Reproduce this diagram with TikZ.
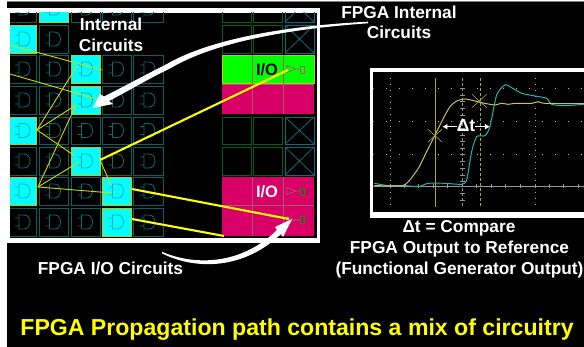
\documentclass[tikz,border=0pt]{standalone}
\usepackage{fontspec}
\usetikzlibrary{arrows.meta}
\setmainfont{Liberation Sans}
\definecolor{gridteal}{HTML}{0A5F5F}
\definecolor{gateteal}{HTML}{0B6E6E}
\definecolor{gatecy}{HTML}{18A8B0}
\definecolor{dkgreen}{HTML}{065C18}
\definecolor{xteal}{HTML}{0F6A78}
\definecolor{pinkc}{HTML}{D80066}
\definecolor{pinkl}{HTML}{A85A70}
\definecolor{scopey}{HTML}{C4C45A}
\definecolor{scopet}{HTML}{2FB0B0}
\definecolor{cursy}{HTML}{A8A83A}
\definecolor{cyanc}{HTML}{00FFFF}
\definecolor{yelc}{HTML}{FFFF00}
\definecolor{wirec}{HTML}{D8D800}
\definecolor{edgec}{HTML}{C8C800}
\definecolor{greenc}{HTML}{00FF00}
\tikzset{
  cellbox/.style={draw=gridteal,line width=0.9pt},
  cyanbox/.style={fill=cyanc,draw=edgec,line width=0.7pt},
  gatesym/.pic={\draw[line width=0.8pt,draw=#1] (-4,-7) -- (1,-7) .. controls (9,-7) and (9,7) .. (1,7) -- (-4,7) -- cycle
     (-4,-4) -- (-8,-4) (-4,4) -- (-8,4);},
  wire/.style={draw=wirec,line width=0.9pt},
  thickwire/.style={draw=yelc,line width=2.1pt},
  lbl/.style={text=white,font=\bfseries\fontsize{17.3}{20}\selectfont,inner sep=0pt,anchor=base},
  iolbl/.style={inner sep=0pt,anchor=base,font=\bfseries\fontsize{16.5}{20}\selectfont},
  ghost/.style={draw=dkgreen,line width=0.9pt},
  xcell/.style={draw=xteal,line width=0.8pt},
  gridline/.style={draw=pinkl,line width=1pt},
}
\begin{document}
\begin{tikzpicture}[x=1pt,y=-1pt]
\useasboundingbox (0,0) rectangle (584,347);
\fill[black] (0,0) rectangle (584,347);
\fill[white] (0,0) rectangle (584,1);
\fill[gray] (0,1) rectangle (584,2);
\fill[white] (0,0) rectangle (6.5,347);
% frame
\fill[white] (6.5,8) rectangle (320,243);
\fill[black] (10,13) rectangle (316.5,238);
\begin{scope}
\clip (10,13) rectangle (316.5,238);
% left grid
\foreach \xa/\xb in {-20/36,39/68,71/100,102/131,133/163}{
  \foreach \ya/\yb in {-6/22,25/53,55/83,86/114,117/144,147/175,177/205,208/236}{
    \ifnum\xa=71 \ifnum\ya=25 \else
      \draw[cellbox] (\xa,\ya) rectangle (\xb,\yb);
    \fi\else\ifnum\xa>71 \ifnum\ya=25 \else
      \draw[cellbox] (\xa,\ya) rectangle (\xb,\yb);
    \fi\else
      \draw[cellbox] (\xa,\ya) rectangle (\xb,\yb);
    \fi\fi
  }
}
\foreach \cx in {23,53.5,85.5,116.5,148}{
  \foreach \cy in {8,39,69,100,130.5,161,191,222}{
    \ifdim\cx pt>60pt \ifdim\cy pt=39pt \else
      \pic at (\cx,\cy) {gatesym=gateteal};
    \fi\else
      \pic at (\cx,\cy) {gatesym=gateteal};
    \fi
  }
}
\foreach \xa/\xb/\ya/\yb in {39/68/-6/22,-20/36/25/53,71/100/55/83,71/100/86/114,-20/36/117/144,71/100/147/175,-20/36/177/205,102/131/177/205,102/131/208/236}{
  \draw[cyanbox] (\xa,\ya) rectangle (\xb,\yb);
}
\foreach \cx/\cy in {53.5/8,23/39,85.5/69,85.5/100,23/130.5,85.5/161,23/191,116.5/191,116.5/222}{
  \pic at (\cx,\cy) {gatesym=gatecy};
}
% right columns
\foreach \xa/\xb in {222/251,253/282}{
  \foreach \ya/\yb in {-6/22,25/53,117/144,147/175}{
    \draw[ghost] (\xa,\ya) rectangle (\xb,\yb);
  }
}
\foreach \ya/\yb in {-6/22,25/53,117/144,147/175}{
  \draw[xcell] (285,\ya) rectangle (314,\yb);
  \draw[xcell] (285,\ya) -- (314,\yb) (285,\yb) -- (314,\ya);
}
\fill[greenc] (222,55) rectangle (314,83);
\draw[edgec,line width=0.5pt] (222,55) rectangle (314,83);
\fill[pinkc] (222,85) rectangle (314,114);
\fill[pinkc] (222,177) rectangle (314,236);
\draw[gridline] (252,55) -- (252,114) (283.5,55) -- (283.5,114) (222,84.5) -- (314,84.5);
\draw[gridline] (252,177) -- (252,236) (283.5,177) -- (283.5,236) (222,206) -- (314,206);
\foreach \yy/\cc in {69/pinkl,191/pinkl,220/pinkl}{
  \draw[\cc,line width=0.7pt] (287,\yy-3.5) -- (296,\yy) -- (287,\yy+3.5) -- cycle (296,\yy) -- (300,\yy);
}
\draw[pinkl,line width=0.8pt] (300,66) rectangle (304,73);
\draw[green!60!black,line width=0.8pt] (300,188) rectangle (304,195) (300,216.5) rectangle (304,223.5);
\end{scope}
% pins
\coordinate (p1) at (10,45);   \coordinate (p2) at (102,70);
\coordinate (p3) at (10,74);   \coordinate (p4) at (100,100);
\coordinate (a) at (37,130);   \coordinate (b) at (38,187);
\coordinate (c1) at (77,66);   \coordinate (c2) at (76,105);
\coordinate (c3) at (75,156);  \coordinate (c4) at (79,162);
\coordinate (d) at (100,160);  \coordinate (e1) at (111,185);
\coordinate (e2) at (112,193); \coordinate (f1) at (132,189);
\coordinate (f2) at (132,219); \coordinate (o1) at (288,70);
\coordinate (o2) at (289,219); \coordinate (o3) at (224,236);
\foreach \s/\t in {p1/p2,p3/p4,a/c1,a/c2,b/c2,a/c3,b/c4,b/e2,d/e1}{\draw[wire] (\s) -- (\t);}
\foreach \s/\t in {d/o1,f1/o2,f2/o3}{\draw[thickwire] (\s) -- (\t);}
% labels
\node[lbl] (li1) at (111,31) {Internal};
\node[lbl] (li2) at (111,51.5) {Circuits};
\node[iolbl,text=black] (io1) at (267,76) {I/O};
\node[iolbl,text=white] (io2) at (267,198) {I/O};
\node[lbl] (fi1) at (399,18.5) {FPGA Internal};
\node[lbl] (fi2) at (399,38.5) {Circuits};
\node[lbl] (fio) at (110.5,275) {FPGA I/O Circuits};
\node[lbl] (d1) at (459,233) {Δt = Compare};
\node[lbl] (d2) at (459.5,254) {FPGA Output to Reference};
\node[lbl] (d3) at (459.5,274.5) {(Functional Generator Output)};
\node[inner sep=0pt,anchor=base,text=yelc,font=\bfseries\fontsize{23.1}{28}\selectfont] (title) at (297,336) {FPGA Propagation path contains a mix of circuitry};
% white arrows
\fill[white] (368,21.7) .. controls (300,25) and (215,36) .. (166,64.5) .. controls (145,75) and (125,86) .. (104,96.5) -- (100,94) -- (93,108) -- (113,104) -- (109,101) .. controls (130,90) and (150,78) .. (170,68.5) .. controls (218,40) and (300,28) .. (368,23.3) -- cycle;
\fill[white] (162,251.8) .. controls (190,264) and (238,268) .. (277,230) -- (275,227) -- (292,219) -- (283,237) -- (281,234) .. controls (240,273) and (190,268) .. (162,253.3) -- cycle;
% scope
\fill[white] (369.5,68) rectangle (584,218);
\fill[black] (373,72) rectangle (584,212);
\begin{scope}[shift={(365,65)},x=0.3333pt,y=-0.3333pt]
\clip (25,22) rectangle (657,440);
\foreach \gx in {75,510}{\draw[gray!60,line width=0.5pt,dash pattern=on 1pt off 5pt] (\gx,40) -- (\gx,425);}
\foreach \gy in {70,168,267}{\draw[gray!60,line width=0.5pt,dash pattern=on 1pt off 12pt] (25,\gy) -- (657,\gy);}
\draw[gray!80,line width=0.6pt] (25,363) -- (657,363);
\foreach \gx in {75,118,161,204,247,335,378,422,465,510,553,596,639}{\draw[gray!80,line width=0.5pt] (\gx,358) -- (\gx,368);}
\draw[gray!85,line width=0.8pt,densely dashed] (292,40) -- (292,425);
\foreach \gy in {70,90,110,130,150,168,190,210,230,250,267,290,310,330,350,385,405}{\draw[gray!85,line width=0.5pt] (284,\gy) -- (300,\gy);}
\draw[cursy,line width=0.9pt] (212,40) -- (212,425);
\draw[cursy,line width=0.9pt,densely dashed] (345,40) -- (345,425);
\draw[scopet,line width=1pt] plot[smooth,tension=0.4] coordinates {(28,355) (70,362) (120,362) (160,365) (190,355) (240,355) (290,358) (305,345) (320,260) (335,215) (360,212) (375,185) (395,90) (420,60) (440,68) (470,85) (510,93) (545,100) (560,118) (600,122) (657,118)};
\draw[scopey,line width=1pt] plot[smooth,tension=0.4] coordinates {(28,362) (110,362) (130,350) (160,310) (185,260) (210,210) (235,160) (255,125) (275,108) (300,102) (330,108) (345,112) (370,117) (390,120) (410,115) (430,118) (450,115) (500,115) (520,110) (540,115) (657,116)};
\foreach \mx/\my in {210/212,343/108}{
  \draw[cursy,line width=0.6pt] (\mx-22,\my-20) -- (\mx+22,\my+20) (\mx-22,\my+20) -- (\mx+22,\my-20);
}
\node[inner sep=0pt,anchor=base,text=white,font=\bfseries\fontsize{17.5}{20}\selectfont] (dt) at (303,200) {Δt};
\coordinate (l1) at (232,185); \coordinate (l2) at (375,185);
\coordinate (m1) at (277,185); \coordinate (m2) at (330,185);
\draw[white,line width=1.3pt,-{Latex[length=5pt,width=6pt]}] (m1) -- (l1);
\draw[white,line width=1.3pt,-{Latex[length=5pt,width=6pt]}] (m2) -- (l2);
\end{scope}
\end{tikzpicture}
\end{document}
